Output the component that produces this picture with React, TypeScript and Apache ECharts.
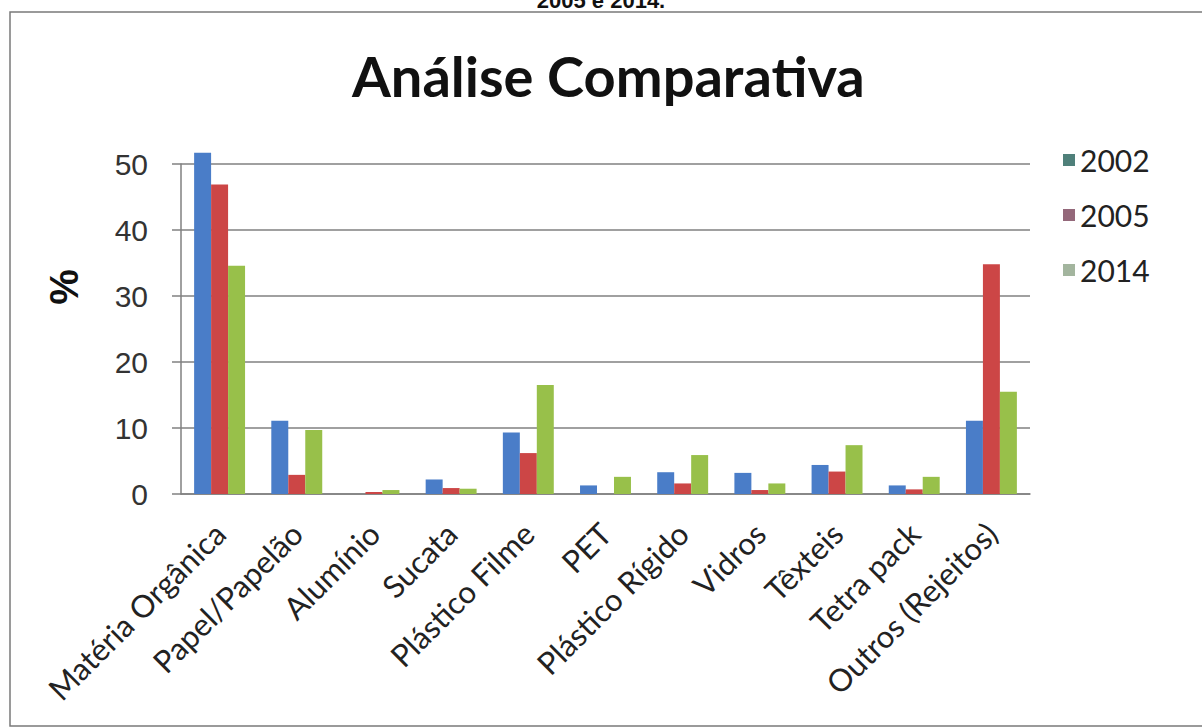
import React, { useEffect, useRef } from "react";
import * as echarts from "echarts";

const categories = [
  "Matéria Orgânica",
  "Papel/Papelão",
  "Alumínio",
  "Sucata",
  "Plástico Filme",
  "PET",
  "Plástico Rígido",
  "Vidros",
  "Têxteis",
  "Tetra pack",
  "Outros (Rejeitos)",
];
const seriesNames = ["2002", "2005", "2014"];
const values2002 = [51.7, 11.1, 0, 2.2, 9.3, 1.3, 3.3, 3.2, 4.4, 1.3, 11.1];
const values2005 = [46.9, 2.9, 0.3, 0.9, 6.2, 0, 1.6, 0.6, 3.4, 0.7, 34.8];
const values2014 = [34.6, 9.7, 0.6, 0.8, 16.5, 2.6, 5.9, 1.6, 7.4, 2.6, 15.5];
const yTicks = [0, 10, 20, 30, 40, 50];

const barColors = ["#4a7dc8", "#cc4646", "#98c04a"];
const legendColors = ["#4f807a", "#94687a", "#a3b59e"];

export default function App() {
  const ref = useRef<HTMLDivElement>(null);
  useEffect(() => {
    if (!ref.current) return;
    const chart = echarts.init(ref.current, null, { renderer: "svg" });
    const allValues = [values2002, values2005, values2014];
    chart.setOption({
      animation: false,
      backgroundColor: "#ffffff",
      title: {
        text: "Análise Comparativa",
        left: 347,
        top: 42,
        textStyle: {
          fontFamily: "Lato",
          fontWeight: "bold",
          fontSize: 56,
          color: "#111111",
        },
      },
      graphic: [
        {
          type: "text",
          left: "center",
          top: -11,
          style: {
            text: "2005 e 2014.",
            font: "bold 22px 'Liberation Sans'",
            fill: "#111",
          },
        },
        {
          type: "rect",
          shape: { x: 10, y: 12, width: 1220, height: 714 },
          style: { fill: "none", stroke: "#7a7a7a", lineWidth: 1.5 },
        },
        {
          type: "text",
          x: 64,
          y: 287,
          rotation: Math.PI / 2,
          style: {
            text: "%",
            font: "bold 40px 'Liberation Sans'",
            fill: "#111",
            align: "center",
            verticalAlign: "middle",
          },
        },
      ],
      legend: {
        orient: "vertical",
        left: 1058,
        top: 140,
        itemWidth: 12,
        itemHeight: 12,
        itemGap: 25,
        icon: "rect",
        textStyle: { fontFamily: "Lato", fontSize: 30, color: "#222" },
        data: seriesNames.map((n, i) => ({
          name: n,
          itemStyle: { color: legendColors[i] },
        })),
      },
      grid: { left: 181, right: 172, top: 164, bottom: 234 },
      xAxis: {
        type: "category",
        data: categories,
        axisLine: { show: true, lineStyle: { color: "#808080", width: 1.5 } },
        axisTick: { show: false },
        axisLabel: {
          rotate: 45,
          interval: 0,
          margin: 34,
          fontFamily: "Lato",
          fontSize: 31,
          color: "#222",
        },
      },
      yAxis: {
        type: "value",
        min: yTicks[0],
        max: yTicks[yTicks.length - 1],
        interval: 10,
        axisLine: { show: true, lineStyle: { color: "#808080", width: 1.5 } },
        axisTick: { show: true, length: 9, lineStyle: { color: "#808080", width: 1.5 } },
        splitLine: { show: true, lineStyle: { color: "#808080", width: 1.5 } },
        axisLabel: {
          margin: 33,
          fontFamily: "Liberation Sans",
          fontSize: 30,
          color: "#333",
        },
      },
      series: seriesNames.map((n, i) => ({
        name: n,
        type: "bar",
        data: allValues[i],
        clip: false,
        barGap: "0%",
        barCategoryGap: "34%",
        itemStyle: { color: barColors[i] },
      })),
    });
    return () => chart.dispose();
  }, []);
  return (
    <div
      ref={ref}
      style={{ position: "absolute", left: 0, top: 0, width: 1202, height: 728 }}
    />
  );
}
